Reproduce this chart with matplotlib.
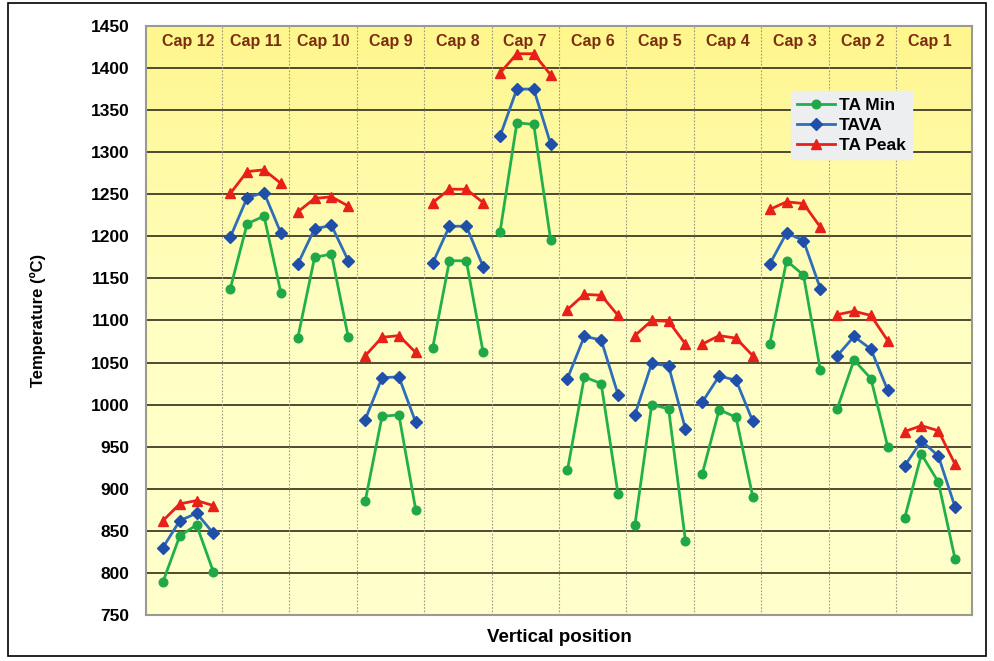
import numpy as np
import matplotlib
matplotlib.use("Agg")
import matplotlib.pyplot as plt
from matplotlib.colors import LinearSegmentedColormap
from matplotlib.patches import Rectangle

plt.rcParams['font.family'] = ['Liberation Sans', 'DejaVu Sans']
plt.rcParams['font.weight'] = 'bold'

caps = ["Cap 12", "Cap 11", "Cap 10", "Cap 9", "Cap 8", "Cap 7",
        "Cap 6", "Cap 5", "Cap 4", "Cap 3", "Cap 2", "Cap 1"]

# four readings per cap, caps in left-to-right order
ta_min = [
    [789, 844, 857, 801],
    [1138, 1215, 1224, 1133],
    [1079, 1175, 1179, 1080],
    [885, 986, 988, 875],
    [1067, 1171, 1171, 1062],
    [1205, 1335, 1333, 1196],
    [922, 1033, 1025, 894],
    [857, 1000, 995, 838],
    [918, 994, 985, 890],
    [1072, 1171, 1154, 1041],
    [995, 1053, 1031, 950],
    [865, 941, 908, 816],
]
tava = [
    [830, 862, 871, 847],
    [1199, 1246, 1252, 1204],
    [1167, 1209, 1213, 1171],
    [982, 1032, 1033, 979],
    [1168, 1212, 1212, 1164],
    [1319, 1375, 1375, 1310],
    [1031, 1081, 1077, 1012],
    [988, 1049, 1046, 971],
    [1003, 1034, 1029, 980],
    [1167, 1204, 1195, 1138],
    [1058, 1081, 1066, 1017],
    [927, 957, 939, 878],
]
ta_peak = [
    [862, 882, 886, 880],
    [1251, 1277, 1279, 1263],
    [1229, 1245, 1247, 1236],
    [1058, 1080, 1082, 1062],
    [1240, 1256, 1256, 1240],
    [1394, 1417, 1417, 1392],
    [1113, 1131, 1130, 1106],
    [1082, 1100, 1099, 1072],
    [1072, 1082, 1079, 1058],
    [1232, 1241, 1239, 1211],
    [1107, 1111, 1106, 1076],
    [968, 975, 969, 929],
]

yticks = list(range(750, 1451, 50))

fig = plt.figure(figsize=(9.94, 6.61), dpi=100)
ax = fig.add_axes([0.1469, 0.0696, 0.8310, 0.8911])

ax.set_xlim(0, 49)
ax.set_ylim(750, 1450)

# yellow gradient background
cmap = LinearSegmentedColormap.from_list("bg", ["#FFFFCC", "#FFFFC4", "#FFF68C"])
grad = np.linspace(0, 1, 256).reshape(-1, 1)
ax.imshow(grad, extent=[0, 49, 750, 1450], origin="lower", aspect="auto",
          cmap=cmap, zorder=0)

for y in yticks[1:-1]:
    ax.axhline(y, color="#4f4a30", lw=1.4, zorder=1)
for k in range(1, len(caps)):
    ax.axvline(4 * k + 0.5, color="#9a9a80", lw=0.8, ls=(0, (1.5, 1.5)), zorder=1)

series = [
    (ta_min, "TA Min", "#22B04A", "#20A848", "o", 6.2),
    (tava, "TAVA", "#2E6DB8", "#1F4FA8", "D", 6),
    (ta_peak, "TA Peak", "#E8201A", "#E8201A", "^", 6.5),
]
for data, name, lc, mc, mk, ms in series:
    for i, vals in enumerate(data):
        x = np.arange(4 * i + 1, 4 * i + 5)
        ax.plot(x, vals, color=lc, lw=2, marker=mk, ms=ms, mfc=mc, mec=mc,
                zorder=3, label=name if i == 0 else None)

for i, c in enumerate(caps):
    ax.text(4 * i + 2.5, 1431, c, ha="center", va="center", fontsize=11.5,
            fontweight="bold", color="#7A2E0E", zorder=4)

ax.set_xticks([])
ax.set_yticks(yticks)
ax.tick_params(axis="y", length=0, pad=12, labelsize=12.5)
for lab in ax.get_yticklabels():
    lab.set_fontweight("bold")
for s in ax.spines.values():
    s.set_color("#9a9a90")
    s.set_linewidth(1.5)

ax.set_ylabel("Temperature (ºC)", fontsize=12, fontweight="bold", labelpad=32)
ax.set_xlabel("Vertical position", fontsize=13.5, fontweight="bold", labelpad=10)

leg = ax.legend(loc="upper left", bbox_to_anchor=(0.781, 0.889), frameon=True,
                fancybox=False, framealpha=1, facecolor="#ECEEF0",
                edgecolor="#ECEEF0", fontsize=12.5, handlelength=2.2,
                handletextpad=0.2, borderpad=0.35, labelspacing=0.3,
                borderaxespad=0)
for t in leg.get_texts():
    t.set_fontweight("bold")

fig.patches.append(Rectangle((0.008, 0.008), 0.984, 0.988, transform=fig.transFigure,
                             fill=False, edgecolor="black", lw=1.2))

fig.savefig("out.png", dpi=100)
